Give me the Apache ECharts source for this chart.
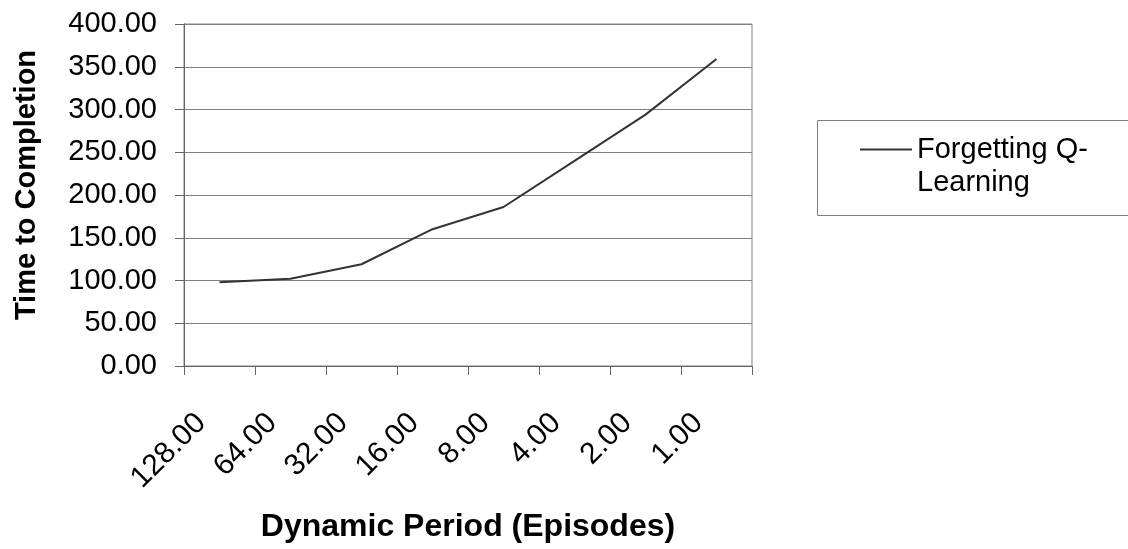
<!DOCTYPE html>
<html>
<head>
<meta charset="utf-8">
<script src="https://cdn.jsdelivr.net/npm/echarts@6/dist/echarts.min.js"></script>
<style>
html,body{margin:0;padding:0;background:#fff;}
#chart{width:1128px;height:549px;}
</style>
</head>
<body>
<div id="chart"></div>
<script>
// Data
const categories = ['128.00', '64.00', '32.00', '16.00', '8.00', '4.00', '2.00', '1.00'];
const seriesName = 'Forgetting Q-\nLearning';
const timeToCompletion = [98, 102, 119, 160, 186, 240, 294, 359];
const yTicks = {min: 0, max: 400, interval: 50};
const xAxisTitle = 'Dynamic Period (Episodes)';
const yAxisTitle = 'Time to Completion';

const FONT = '"Liberation Sans", Arial, sans-serif';
const chart = echarts.init(document.getElementById('chart'), null, {renderer: 'canvas'});
chart.setOption({
  backgroundColor: '#ffffff',
  animation: false,
  grid: {
    left: 184, right: 376, top: 24, bottom: 183,
    show: true, borderColor: '#808080', borderWidth: 1, backgroundColor: 'transparent'
  },
  legend: {
    show: true,
    left: 860, top: 100,
    padding: 0,
    itemWidth: 52, itemHeight: 2,
    itemGap: 0,
    data: [{name: seriesName, icon: 'rect'}],
    itemStyle: {color: '#333'},
    formatter: name => '\n' + name,
    textStyle: {fontFamily: FONT, fontSize: 29, color: '#000', lineHeight: 33}
  },
  graphic: [{
    type: 'rect', silent: true,
    shape: {x: 817.5, y: 120.5, width: 330, height: 95},
    style: {fill: 'none', stroke: '#808080', lineWidth: 1}
  }],
  xAxis: {
    type: 'category',
    data: categories,
    boundaryGap: true,
    name: xAxisTitle,
    nameLocation: 'middle',
    nameGap: 145,
    nameTextStyle: {fontFamily: FONT, fontSize: 32, fontWeight: 'bold', color: '#000'},
    axisLine: {show: true, lineStyle: {color: '#666', width: 1}},
    axisTick: {show: true, length: 9, inside: false, alignWithLabel: false, lineStyle: {color: '#666'}},
    axisLabel: {
      rotate: 45, margin: 34, interval: 0,
      fontFamily: FONT, fontSize: 29, color: '#000',
      formatter: v => '{a|' + v + '}',
      rich: {a: {fontFamily: FONT, fontSize: 30, color: '#000', padding: [0, 26, 0, 0]}}
    },
    splitLine: {show: false}
  },
  yAxis: {
    type: 'value',
    min: yTicks.min, max: yTicks.max, interval: yTicks.interval,
    name: yAxisTitle,
    nameLocation: 'middle',
    nameRotate: 90,
    nameGap: 143,
    nameTextStyle: {fontFamily: FONT, fontSize: 29, fontWeight: 'bold', color: '#000', padding: [0, 0, 0, 20]},
    axisLine: {show: true, lineStyle: {color: '#666', width: 1}},
    axisTick: {show: true, length: 9, lineStyle: {color: '#666'}},
    axisLabel: {
      margin: 27, fontFamily: FONT, fontSize: 29, color: '#000',
      formatter: v => v.toFixed(2)
    },
    splitLine: {show: true, lineStyle: {color: '#808080', width: 1}}
  },
  series: [{
    name: seriesName,
    type: 'line',
    data: timeToCompletion,
    symbol: 'none',
    showSymbol: false,
    lineStyle: {color: '#333', width: 2},
    itemStyle: {color: '#333'}
  }]
});
</script>
</body>
</html>
